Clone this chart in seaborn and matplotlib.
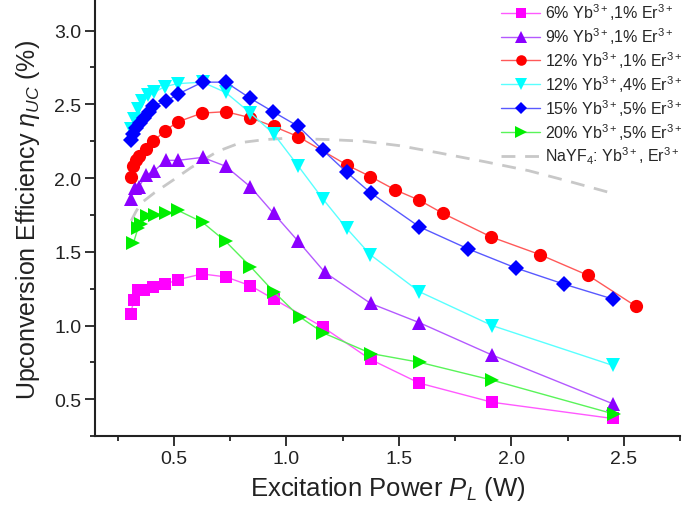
import matplotlib
matplotlib.use("Agg")
import matplotlib.pyplot as plt
import seaborn as sns
from matplotlib.ticker import MultipleLocator

# --- data ---
x_6_1 = [0.307, 0.322, 0.340, 0.369, 0.409, 0.460, 0.516, 0.624, 0.730, 0.840, 0.943,
         1.161, 1.374, 1.590, 1.914, 2.450]
y_6_1 = [1.08, 1.17, 1.24, 1.24, 1.26, 1.28, 1.31, 1.35, 1.33, 1.27, 1.18,
         0.99, 0.77, 0.61, 0.48, 0.37]

x_9_1 = [0.307, 0.325, 0.344, 0.376, 0.413, 0.465, 0.519, 0.627, 0.730, 0.840, 0.943,
         1.053, 1.171, 1.374, 1.590, 1.914, 2.450]
y_9_1 = [1.86, 1.93, 1.94, 2.02, 2.05, 2.12, 2.12, 2.14, 2.08, 1.94, 1.76,
         1.57, 1.36, 1.15, 1.02, 0.80, 0.47]

x_12_1 = [0.310, 0.320, 0.332, 0.344, 0.376, 0.409, 0.460, 0.516, 0.624, 0.730, 0.837,
          0.943, 1.053, 1.267, 1.373, 1.483, 1.590, 1.696, 1.911, 2.128, 2.341, 2.554]
y_12_1 = [2.01, 2.08, 2.12, 2.15, 2.20, 2.25, 2.32, 2.38, 2.44, 2.45, 2.41,
          2.35, 2.28, 2.09, 2.01, 1.92, 1.85, 1.76, 1.60, 1.48, 1.34, 1.13]

x_12_4 = [0.307, 0.322, 0.340, 0.360, 0.385, 0.410, 0.460, 0.516, 0.627, 0.730, 0.840,
          0.943, 1.053, 1.161, 1.267, 1.373, 1.590, 1.914, 2.450]
y_12_4 = [2.33, 2.40, 2.47, 2.52, 2.56, 2.58, 2.62, 2.64, 2.65, 2.58, 2.44,
          2.30, 2.08, 1.86, 1.66, 1.48, 1.23, 1.00, 0.73]

x_15_5 = [0.307, 0.318, 0.332, 0.351, 0.369, 0.391, 0.406, 0.465, 0.519, 0.627, 0.730,
          0.840, 0.940, 1.053, 1.161, 1.267, 1.374, 1.590, 1.807, 2.020, 2.235, 2.450]
y_15_5 = [2.26, 2.30, 2.34, 2.37, 2.41, 2.45, 2.49, 2.52, 2.57, 2.65, 2.65,
          2.54, 2.45, 2.35, 2.19, 2.04, 1.90, 1.67, 1.52, 1.39, 1.28, 1.18]

x_20_5 = [0.320, 0.340, 0.354, 0.380, 0.415, 0.465, 0.519, 0.627, 0.730, 0.840, 0.943,
          1.058, 1.164, 1.377, 1.594, 1.914, 2.456]
y_20_5 = [1.56, 1.66, 1.69, 1.74, 1.75, 1.76, 1.78, 1.70, 1.57, 1.40, 1.23,
          1.06, 0.95, 0.81, 0.75, 0.63, 0.40]

x_nayf = [0.310, 0.330, 0.354, 0.413, 0.500, 0.575, 0.693, 0.796, 0.900, 1.000, 1.100,
          1.200, 1.340, 1.500, 1.680, 1.884, 2.076, 2.250, 2.440]
y_nayf = [1.71, 1.77, 1.83, 1.90, 1.99, 2.07, 2.18, 2.24, 2.26, 2.27, 2.265,
          2.26, 2.25, 2.22, 2.17, 2.11, 2.05, 1.98, 1.90]

labels = [r"6% Yb$^{3+}$,1% Er$^{3+}$", r"9% Yb$^{3+}$,1% Er$^{3+}$",
          r"12% Yb$^{3+}$,1% Er$^{3+}$", r"12% Yb$^{3+}$,4% Er$^{3+}$",
          r"15% Yb$^{3+}$,5% Er$^{3+}$", r"20% Yb$^{3+}$,5% Er$^{3+}$"]
nayf_label = r"NaYF$_4$: Yb$^{3+}$, Er$^{3+}$"

sns.set_style("ticks")
plt.rcParams['font.family'] = ['Liberation Sans', 'DejaVu Sans']
plt.rcParams['mathtext.fontset'] = 'custom'
plt.rcParams['mathtext.rm'] = 'Liberation Sans'
plt.rcParams['mathtext.it'] = 'Liberation Sans:italic'
plt.rcParams['mathtext.bf'] = 'Liberation Sans:bold'

fig = plt.figure(figsize=(6.85, 5.06), dpi=100)
ax = fig.add_axes([0.139, 0.136, 0.854, 0.860])

series = [
    (x_6_1, y_6_1, "#ff00ff", "s", 8.5),
    (x_9_1, y_9_1, "#8b00ff", "^", 10),
    (x_12_1, y_12_1, "#ff0000", "o", 9.5),
    (x_12_4, y_12_4, "#00ffff", "v", 10),
    (x_15_5, y_15_5, "#0000ff", "D", 8),
    (x_20_5, y_20_5, "#00ee00", ">", 10),
]

sns.lineplot(x=x_nayf, y=y_nayf, ax=ax, color="#c8c8c8", lw=2,
             linestyle=(0, (5, 3.5)), label=nayf_label, zorder=1)

for (xs, ys, col, mk, ms), lab in zip(series, labels):
    sns.lineplot(x=xs, y=ys, ax=ax, color=col, lw=1,
                 marker=mk, markersize=ms, markeredgewidth=0,
                 label=lab, zorder=2)

# lighter connecting lines, solid markers
for ln in ax.lines[1:]:
    c = matplotlib.colors.to_rgb(ln.get_color())
    ln.set_markerfacecolor(c)
    ln.set_markeredgecolor(c)
    ln.set_color(tuple(0.35 + 0.65 * v for v in c))

ax.set_xlim(0.15, 2.75)
ax.set_ylim(0.25, 3.2)
ax.xaxis.set_minor_locator(MultipleLocator(0.25))
ax.yaxis.set_minor_locator(MultipleLocator(0.25))
ax.set_xticks([0.5, 1.0, 1.5, 2.0, 2.5])
ax.set_yticks([0.5, 1.0, 1.5, 2.0, 2.5, 3.0])
ax.set_xticklabels(["0.5", "1.0", "1.5", "2.0", "2.5"])
ax.set_yticklabels(["0.5", "1.0", "1.5", "2.0", "2.5", "3.0"])
ax.tick_params(which='major', direction='out', length=7, width=1.3, labelsize=14,
               colors='#222222', pad=3)
ax.tick_params(which='minor', direction='out', length=3.6, width=1.3, colors='#222222')
for s in ['top', 'right']:
    ax.spines[s].set_visible(False)
for s in ['left', 'bottom']:
    ax.spines[s].set_linewidth(1.5)
    ax.spines[s].set_color('#222222')

ax.set_xlabel(r"Excitation Power $P_L$ (W)", fontsize=18.5, color='#222222', labelpad=5)
ax.set_ylabel(r"Upconversion Efficiency $\eta_{UC}$ (%)", fontsize=18, color='#222222',
              labelpad=9)

handles, labs = ax.get_legend_handles_labels()
order = list(range(1, len(handles))) + [0]
leg = ax.legend([handles[i] for i in order], [labs[i] for i in order],
                loc='upper left', bbox_to_anchor=(0.732, 0.995),
                bbox_transform=fig.transFigure, frameon=False,
                fontsize=11.5, handlelength=2.4, labelspacing=0.2,
                handletextpad=0.35, borderpad=0, borderaxespad=0, markerscale=0.8)

fig.savefig("out.png", dpi=100)
